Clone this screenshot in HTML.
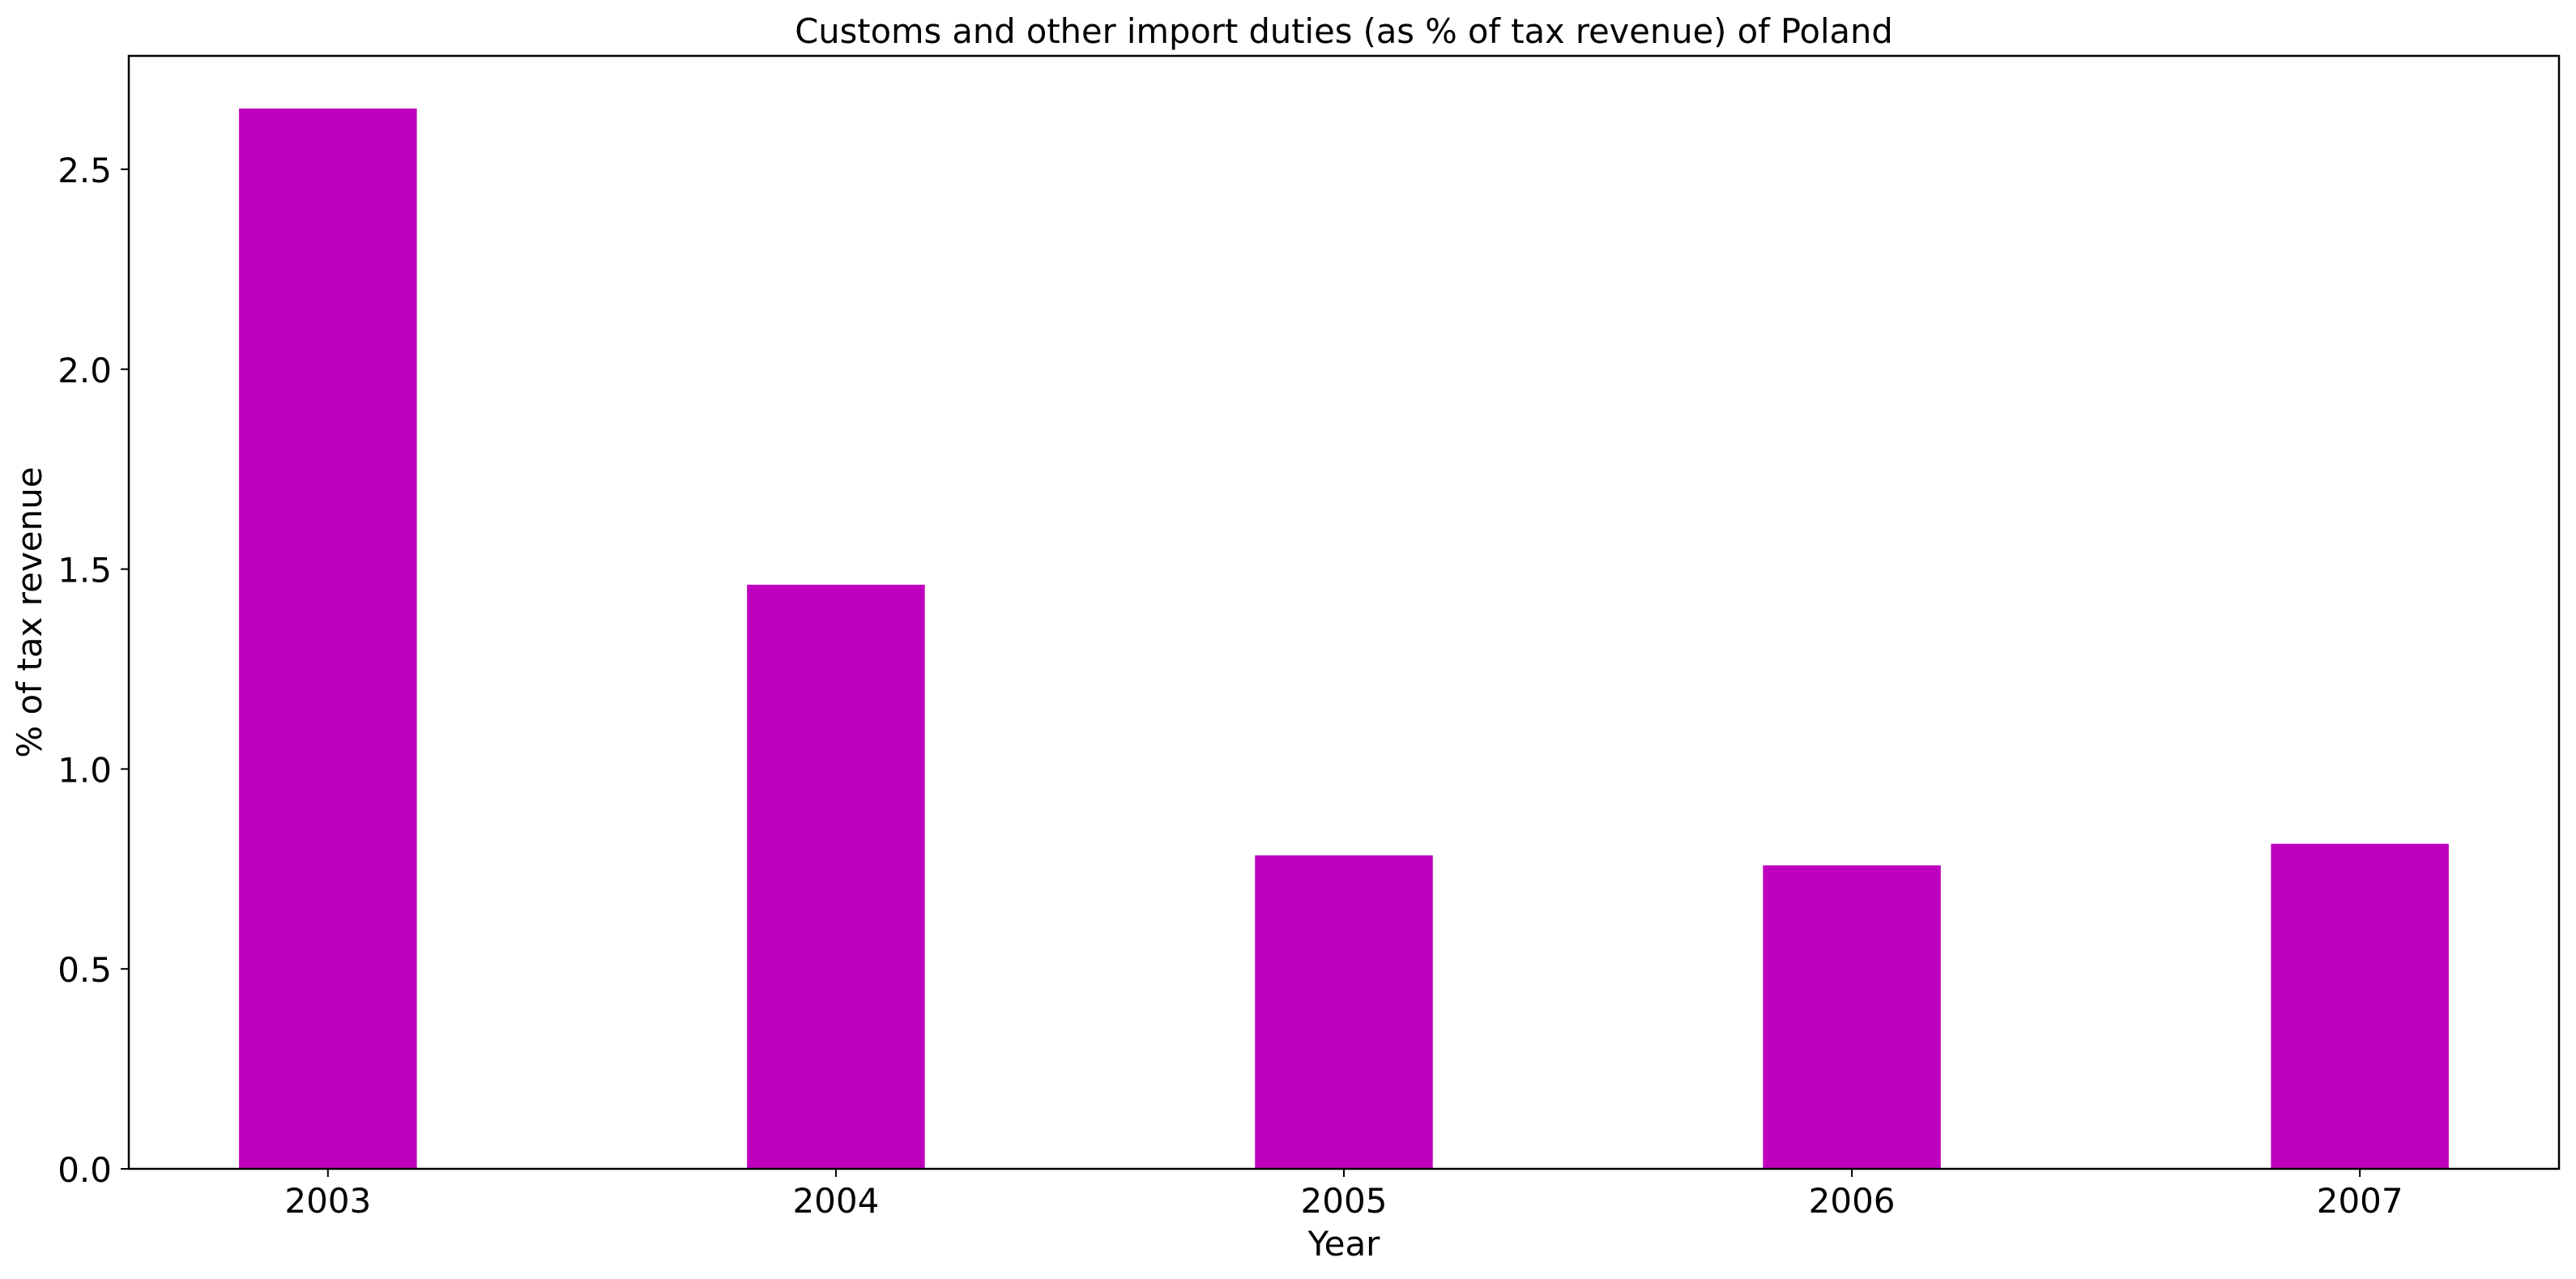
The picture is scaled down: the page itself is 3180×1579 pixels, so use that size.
<!DOCTYPE html>
<html><head><meta charset="utf-8"><style>
html,body{margin:0;padding:0;background:#fff;}
svg{display:block;font-family:"DejaVu Sans","Liberation Sans",sans-serif;}
</style></head><body>
<svg id="chart" width="3180" height="1579" viewBox="0 0 3180 1579" xmlns="http://www.w3.org/2000/svg">
<rect width="3180" height="1579" fill="#fff"/>
<text x="1659" y="53" font-size="41.6" text-anchor="middle" fill="#000">Customs and other import duties (as % of tax revenue) of Poland</text>
<g id="bars"></g>
<g id="yticks"></g>
<g id="xticks"></g>
<rect x="159" y="69" width="3000" height="1374" fill="none" stroke="#000" stroke-width="2.5"/>
<text x="1659" y="1550" font-size="42" text-anchor="middle" fill="#000">Year</text>
<text transform="translate(51,756) rotate(-90)" font-size="42" text-anchor="middle" fill="#000">% of tax revenue</text>
</svg>
<script>
const categories = ["2003","2004","2005","2006","2007"];
const values = [2.652, 1.461, 0.784, 0.759, 0.813];
const yTicks = [0, 0.5, 1.0, 1.5, 2.0, 2.5];
const yTickLabels = ["0.0","0.5","1.0","1.5","2.0","2.5"];

const L=159,R=3159,T=69,B=1443;
const yScale=v=>B-v*(B-209)/2.5;
const xMin=-0.392,xMax=4.392;
const xScale=i=>L+(i-xMin)*(R-L)/(xMax-xMin);
const bw=0.35*(R-L)/(xMax-xMin);
const NS="http://www.w3.org/2000/svg";
const bars=document.getElementById('bars');
categories.forEach((c,i)=>{
  const r=document.createElementNS(NS,'rect');
  
  
  const y=yScale(values[i]);
  r.setAttribute('x',xScale(i)-bw/2);r.setAttribute('y',y);
  r.setAttribute('width',bw);r.setAttribute('height',B-y);
  r.setAttribute('fill','#bf00bf');
  bars.appendChild(r);
});
const yt=document.getElementById('yticks');
yTicks.forEach((v,i)=>{
  const y=yScale(v);
  const l=document.createElementNS(NS,'line');
  
  
  l.setAttribute('x1',L-10);l.setAttribute('x2',L);l.setAttribute('y1',y);l.setAttribute('y2',y);
  l.setAttribute('stroke','#000');l.setAttribute('stroke-width','2');
  yt.appendChild(l);
  const t=document.createElementNS(NS,'text');
  
  
  t.setAttribute('x',L-21);t.setAttribute('y',y+16);
  t.setAttribute('font-size','42');t.setAttribute('text-anchor','end');
  t.textContent=yTickLabels[i];
  yt.appendChild(t);
});
const xt=document.getElementById('xticks');
categories.forEach((c,i)=>{
  const x=xScale(i);
  const l=document.createElementNS(NS,'line');
  
  
  l.setAttribute('x1',x);l.setAttribute('x2',x);l.setAttribute('y1',B);l.setAttribute('y2',B+10);
  l.setAttribute('stroke','#000');l.setAttribute('stroke-width','2');
  xt.appendChild(l);
  const t=document.createElementNS(NS,'text');
  
  
  t.setAttribute('x',x);t.setAttribute('y',B+54);
  t.setAttribute('font-size','42');t.setAttribute('text-anchor','middle');
  t.textContent=c;
  xt.appendChild(t);
});
</script>
</body></html>
